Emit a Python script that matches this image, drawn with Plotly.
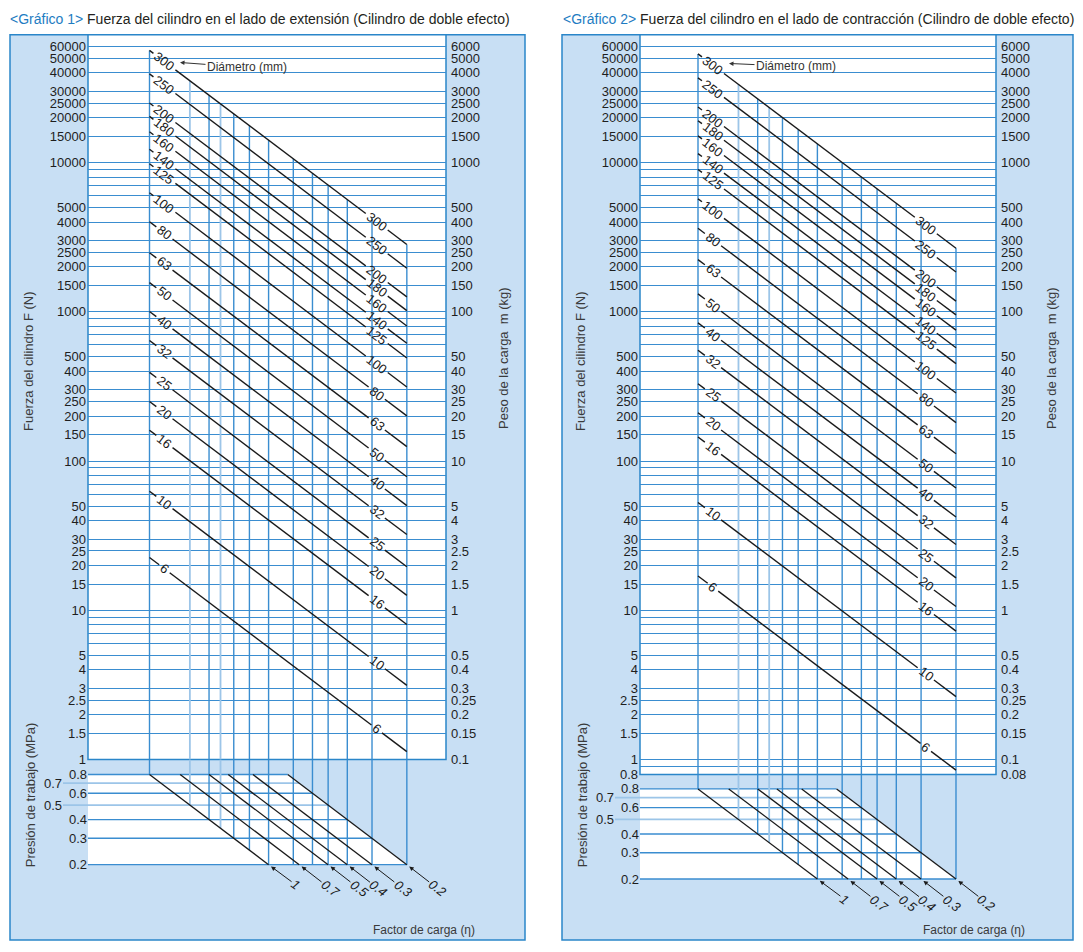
import math
import plotly.graph_objects as go

W, H = 1083, 952

# ---------------- data ----------------
bores = [300, 250, 200, 180, 160, 140, 125, 100, 80, 63, 50, 40, 32, 25, 20, 16, 10, 6]
# force (N) of each bore line at eta*P = 0.8 MPa (left end) and 0.04 MPa (right end)
force_ext_start = [56500, 39300, 25100, 20400, 16100, 12300, 9820, 6280, 4020, 2490, 1570, 1005, 643, 393, 251, 161, 62.8, 22.6]
force_ext_end = [2830, 1960, 1260, 1020, 804, 616, 491, 314, 201, 125, 78.5, 50.3, 32.2, 19.6, 12.6, 8.04, 3.14, 1.13]
force_ret_start = [53500, 37000, 23600, 19100, 15100, 11500, 9000, 5720, 3630, 2240, 1320, 844, 553, 330, 211, 145, 52.8, 17.0]
force_ret_end = [2670, 1850, 1180, 954, 754, 575, 450, 286, 181, 112, 66, 42.2, 27.6, 16.5, 10.6, 7.26, 2.64, 0.85]

# vertical (eta x P) guide lines
etaP_lines = [0.8, 0.5, 0.4, 0.35, 0.3, 0.25, 0.2, 0.15, 0.12, 0.1, 0.08, 0.06, 0.04]
etaP_top_ext = [56500, 35300, 28300, 24700, 21200, 17700, 14100, 10600, 8480, 7060, 5650, 4240, 2830]
etaP_top_ret = [53500, 33400, 26800, 23400, 20100, 16700, 13400, 10000, 8030, 6690, 5350, 4010, 2680]
etaP_bottom_p = [0.8, 0.5, 0.4, 0.35, 0.3, 0.25, 0.2, 0.2, 0.2, 0.2, 0.2, 0.2, 0.2]
etaP_faint = [0.5, 0.35]

# working pressure lines (MPa)
pressures = [0.8, 0.7, 0.6, 0.5, 0.4, 0.3, 0.2]
pressure_ticks_main = [0.8, 0.6, 0.4, 0.3, 0.2]
pressure_ticks_side = [0.7, 0.5]
pressure_lo, pressure_hi = 0.2, 0.8

# load factor lines
eta_labels = ["1", "0.7", "0.5", "0.4", "0.3", "0.2"]
eta_x_at_08 = [0.8, 0.56, 0.4, 0.32, 0.24, 0.16]
eta_x_at_02 = [0.2, 0.14, 0.1, 0.08, 0.06, 0.04]

force_ticks = [60000, 50000, 40000, 30000, 25000, 20000, 15000, 10000, 5000, 4000, 3000, 2500,
               2000, 1500, 1000, 500, 400, 300, 250, 200, 150, 100, 50, 40, 30, 25, 20, 15,
               10, 5, 4, 3, 2.5, 2, 1.5, 1]
force_minor = [9000, 8000, 7000, 6000, 900, 800, 700, 600, 90, 80, 70, 60, 9, 8, 7, 6]
kg_ticks = [6000, 5000, 4000, 3000, 2500, 2000, 1500, 1000, 500, 400, 300, 250, 200, 150, 100,
            50, 40, 30, 25, 20, 15, 10, 5, 4, 3, 2.5, 2, 1.5, 1, 0.5, 0.4, 0.3, 0.25, 0.2, 0.15, 0.1]

# ---------------- style ----------------
FONT = "Liberation Sans, Arial, sans-serif"
GRID = "#3a8dd0"
GRID_LT = "#9cc5e8"
BORDER = "#2a86c9"
INK = "#1a1a1a"
PANEL = "#c8dff4"
TXT = "#1e1e1e"
L = math.log10
N_PER_KG = 10.0

def px(x):
    return x / W

def py(y):
    return 1 - y / H

def fmt(v):
    return f"{v:g}"

charts = [
    dict(title="Fuerza del cilindro en el lado de extensión (Cilindro de doble efecto)", num="1",
         fs=force_ext_start, fe=force_ext_end, vtop=etaP_top_ext,
         fticks=force_ticks, fminor=force_minor, kgt=kg_ticks,
         box=(10, 525), white=(88, 446), x08=149.5, xs=197.8, ybot=766, yp02=872, ext=63,
         ax=("x", "x2", "y", "y2", "y3", "y4"), tx=8, diam=(180, 63, 247, 68)),
    dict(title="Fuerza del cilindro en el lado de contracción (Cilindro de doble efecto)", num="2",
         fs=force_ret_start, fe=force_ret_end, vtop=etaP_top_ret,
         fticks=force_ticks + [0.8], fminor=force_minor + [0.9], kgt=kg_ticks + [0.08],
         box=(562, 1073), white=(640, 996), x08=698, xs=198.3, ybot=781, yp02=886.5, ext=615,
         ax=("x3", "x4", "y5", "y6", "y7", "y8"), tx=561, diam=(729, 64, 796, 67)),
]

YTOP = 35
Y1N = 766.0
FPX = 150.5
PPX = 151.0
LOG08 = L(0.8)

fig = go.Figure()
shapes = []
annotations = []
layout_axes = {}


def key(a):
    return ("xaxis" if a[0] == "x" else "yaxis") + a[1:]


def note(x, y, text, font, angle=0, xanchor="center"):
    return dict(x=x, y=y, xref="paper", yref="paper", text=text, textangle=angle, showarrow=False,
                xanchor=xanchor, yanchor="middle", font=font)


for c in charts:
    xt, xb, yF, yK, yP, yP2 = c["ax"]
    wl, wr = c["white"]
    x08, xs = c["x08"], c["xs"]
    ybot, yp02, ext = c["ybot"], c["yp02"], c["ext"]

    # panel + white plotting area
    shapes.append(dict(type="rect", xref="paper", yref="paper", x0=px(c["box"][0]), x1=px(c["box"][1]),
                       y0=py(948), y1=py(YTOP), fillcolor=PANEL, line=dict(color=BORDER, width=1.5), layer="below"))
    shapes.append(dict(type="rect", xref="paper", yref="paper", x0=px(wl), x1=px(wr),
                       y0=py(ybot), y1=py(YTOP), fillcolor="white", line=dict(color=BORDER, width=1.5), layer="below"))

    xr_top = [LOG08 + (x08 - wl) / xs, LOG08 - (wr - x08) / xs]
    xr_bot = [LOG08 + (x08 - ext) / xs, LOG08 - (wr - x08) / xs]
    fr = [(Y1N - ybot) / FPX, (Y1N - YTOP) / FPX]
    yb_dom = yp02 + 12
    pr = [L(pressure_lo) - 12 / PPX, L(pressure_lo) + (yp02 - ybot) / PPX]

    hidden = dict(visible=False, showgrid=False, zeroline=False, fixedrange=True)
    layout_axes[key(xt)] = dict(type="log", range=xr_top, domain=[px(wl), px(wr)], anchor=yF, **hidden)
    layout_axes[key(xb)] = dict(type="log", range=xr_bot, domain=[px(ext), px(wr)], anchor=yP, **hidden)
    tickfont = dict(family=FONT, size=13, color=TXT)
    layout_axes[key(yF)] = dict(type="log", range=fr, domain=[py(ybot), py(YTOP)], anchor=xt, side="left",
                                tickmode="array", tickvals=c["fticks"], ticktext=[fmt(v) for v in c["fticks"]],
                                showgrid=True, gridcolor=GRID, gridwidth=1.2, zeroline=False, showline=False,
                                ticks="", ticklabelstandoff=1, tickfont=tickfont,
                                minor=dict(tickmode="array", tickvals=c["fminor"], showgrid=True,
                                           gridcolor=GRID, gridwidth=1.2, ticks=""))
    layout_axes[key(yK)] = dict(type="log", range=[fr[0] - L(N_PER_KG), fr[1] - L(N_PER_KG)], overlaying=yF,
                                anchor=xt, side="right", tickmode="array", tickvals=c["kgt"],
                                ticktext=[fmt(v) for v in c["kgt"]],
                                showgrid=False, zeroline=False, showline=False, ticks="", ticklabelstandoff=4,
                                tickfont=tickfont)
    layout_axes[key(yP)] = dict(type="log", range=pr, domain=[py(yb_dom), py(ybot)], anchor="free",
                                position=px(wl), side="left", tickmode="array", tickvals=pressure_ticks_main,
                                ticktext=[fmt(v) for v in pressure_ticks_main], showgrid=False, zeroline=False,
                                showline=False, ticks="", ticklabelstandoff=1, tickfont=tickfont)
    layout_axes[key(yP2)] = dict(type="log", range=pr, overlaying=yP, anchor="free", position=px(ext), side="left",
                                 tickmode="array", tickvals=pressure_ticks_side,
                                 ticktext=[fmt(v) for v in pressure_ticks_side], showgrid=False, zeroline=False,
                                 showline=False, ticks="", ticklabelstandoff=1, tickfont=tickfont)

    x_left_top = 10 ** xr_top[0]
    x_left_bot = 10 ** xr_bot[0]
    p_top = 10 ** pr[1]
    f_bot = 10 ** fr[0]

    # white trapezoid of the pressure section
    fig.add_trace(go.Scatter(x=[x_left_top, eta_x_at_08[-1], eta_x_at_02[-1], x_left_top],
                             y=[pressure_hi, pressure_hi, pressure_lo, pressure_lo],
                             fill="toself", fillcolor="white", mode="lines", line=dict(width=0),
                             xaxis=xb, yaxis=yP, hoverinfo="skip", showlegend=False))

    # pressure lines
    for faint in (False, True):
        xsx, ysy = [], []
        for p in pressures:
            is_side = p in pressure_ticks_side
            if is_side != faint:
                continue
            xsx += [x_left_bot if is_side else x_left_top, eta_x_at_02[-1] / pressure_lo * p, None]
            ysy += [p, p, None]
        fig.add_trace(go.Scatter(x=xsx, y=ysy, mode="lines", xaxis=xb, yaxis=yP,
                                 line=dict(color=GRID_LT if faint else GRID, width=1.8 if faint else 1.4),
                                 hoverinfo="skip", showlegend=False))

    # vertical eta*P lines (top part and bottom part)
    for faint in (False, True):
        xt_, yt_, xb_, yb_ = [], [], [], []
        for v, ft, pe in zip(etaP_lines, c["vtop"], etaP_bottom_p):
            if (v in etaP_faint) != faint:
                continue
            xt_ += [v, v, None]
            yt_ += [ft, f_bot, None]
            xb_ += [v, v, None]
            yb_ += [p_top, pe, None]
        ln = dict(color=GRID_LT if faint else GRID, width=1.8 if faint else 1.4)
        fig.add_trace(go.Scatter(x=xt_, y=yt_, mode="lines", xaxis=xt, yaxis=yF, line=ln,
                                 hoverinfo="skip", showlegend=False))
        fig.add_trace(go.Scatter(x=xb_, y=yb_, mode="lines", xaxis=xb, yaxis=yP, line=ln,
                                 hoverinfo="skip", showlegend=False))

    # load factor lines
    ex, ey = [], []
    for a, b in zip(eta_x_at_08, eta_x_at_02):
        ex += [a, b, None]
        ey += [pressure_hi, pressure_lo, None]
    fig.add_trace(go.Scatter(x=ex, y=ey, mode="lines", xaxis=xb, yaxis=yP, line=dict(color=INK, width=1.3),
                             hoverinfo="skip", showlegend=False))
    for lab, xe in zip(eta_labels, eta_x_at_02):
        n = len(lab)
        annotations.append(dict(x=L(xe), y=L(pressure_lo), xref=xb, yref=yP, text="<i>" + lab + "</i>",
                                textangle=37, showarrow=True, arrowhead=2, arrowsize=0.9, arrowwidth=1,
                                arrowcolor=INK, ax=25 + 2 * n, ay=18 + 2 * n, standoff=3,
                                font=dict(family=FONT, size=13, color=INK)))

    # bore diagonals with gaps for the labels
    v0, v1 = etaP_lines[0], etaP_lines[-1]
    T_LEFT, T_RIGHT, DIAG_LEN = 0.058, 0.883, 323.5
    dx, dy = [], []
    for b, f0, f1 in zip(bores, c["fs"], c["fe"]):
        lab = str(b)
        g = (len(lab) * 7.2 / 2 + 3) / DIAG_LEN
        for t in [0, T_LEFT - g, None, T_LEFT + g, T_RIGHT - g, None, T_RIGHT + g, 1, None]:
            if t is None:
                dx.append(None)
                dy.append(None)
            else:
                dx.append(10 ** (L(v0) + t * (L(v1) - L(v0))))
                dy.append(10 ** (L(f0) + t * (L(f1) - L(f0))))
        for t in (T_LEFT, T_RIGHT):
            annotations.append(dict(x=L(v0) + t * (L(v1) - L(v0)), y=L(f0) + t * (L(f1) - L(f0)),
                                    xref=xt, yref=yF, text=lab, textangle=37.3, showarrow=False,
                                    xanchor="center", yanchor="middle",
                                    font=dict(family=FONT, size=13, color=INK)))
    fig.add_trace(go.Scatter(x=dx, y=dy, mode="lines", xaxis=xt, yaxis=yF, line=dict(color=INK, width=1.4),
                             hoverinfo="skip", showlegend=False))

    # dummy traces so overlay axes render
    fig.add_trace(go.Scatter(x=[v0], y=[1], mode="markers", marker=dict(opacity=0), xaxis=xt, yaxis=yK,
                             hoverinfo="skip", showlegend=False))
    fig.add_trace(go.Scatter(x=[v0], y=[pressure_hi], mode="markers", marker=dict(opacity=0), xaxis=xb, yaxis=yP2,
                             hoverinfo="skip", showlegend=False))

    # diameter pointer
    tx_, ty_, lx_, ly_ = c["diam"]
    annotations.append(dict(x=px(tx_), y=py(ty_), xref="paper", yref="paper", text="Diámetro (mm)",
                            showarrow=True, arrowhead=2, arrowsize=0.9, arrowwidth=1, arrowcolor="#333",
                            ax=lx_ - tx_, ay=ly_ - ty_, font=dict(family=FONT, size=12, color="#333")))

    # titles
    annotations.append(note(px(c["tx"]), py(19),
                            '<span style="color:#1e7cc2">&lt;Gráfico ' + c["num"] + '&gt;</span> ' + c["title"],
                            dict(family=FONT, size=14, color="#231f20"), xanchor="left"))
    ox = c["box"][0] - 10
    af = dict(family=FONT, size=13, color="#3a3a3a")
    annotations.append(note(px(ox + 29), py(365), "Fuerza del cilindro F (N)", af, -90))
    annotations.append(note(px(c["box"][1] - 21), py(361), "Peso de la carga  m (kg)", af, -90))
    annotations.append(note(px(ox + 30), py(802), "Presión de trabajo (MPa)", af, -90))
    annotations.append(note(px(wr - 22), py(938), "Factor de carga (η)",
                            dict(family=FONT, size=12, color="#3a3a3a")))

fig.update_layout(width=W, height=H, margin=dict(l=0, r=0, t=0, b=0), autosize=False,
                  paper_bgcolor="white", plot_bgcolor="rgba(0,0,0,0)", showlegend=False,
                  shapes=shapes, annotations=annotations, **layout_axes)

fig.write_html("out.html")
